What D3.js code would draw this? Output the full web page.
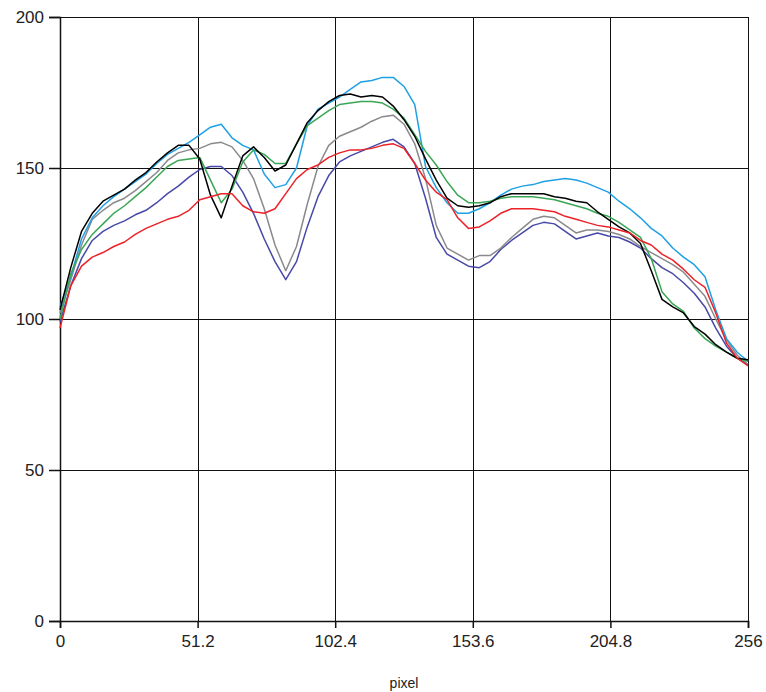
<!DOCTYPE html>
<html><head><meta charset="utf-8">
<script src="https://cdn.jsdelivr.net/npm/d3@7"></script>
<style>
body{margin:0;background:#fff;}
text{font-family:"Liberation Sans",Arial,sans-serif;}
</style></head>
<body><svg id="c" width="766" height="692"></svg>
<script>
const xStep = 4;
const xTicks = [0, 51.2, 102.4, 153.6, 204.8, 256];
const yTicks = [0, 50, 100, 150, 200];
const xLabel = "pixel";

const black = [103,117,129,135,139,141,143,146,148.5,152,155,157.5,157.5,153,141,133.5,144,154,157,153.5,149,151,158,165,169,172,174,174.5,173.5,174,173.5,170.5,166,160.5,153,146,140,137.5,137,137.5,138.5,140.5,141.5,141.5,141.5,141.5,140.5,140,139,138.5,135.5,133,130.5,128.5,125,116,106.5,104,102,97.5,95,91.5,89,87,86.5];
const green = [100,115,123,128,131.5,135,137.5,140.5,143.5,147,150.5,152.5,153,153.5,146,138.5,143,152,156,154.5,151.5,151.5,158,164,166.5,169,171,171.5,172,172,171.5,169.5,166.5,161,155.5,151,145.5,141,138.5,138.5,139,140,140.5,140.5,140.5,140,139.5,138.5,137.5,136.5,135,134,132,129.5,127,120,109,105,102.5,97,93.5,91,89,87,86];
const blue = [104,114,126.5,133.5,137.5,140.5,143,145.5,148,151.5,154.5,156.5,158.5,161,163.5,164.5,160,157.5,156,148,143.5,144.5,150,164,169.5,171.5,173.5,176,178.5,179,180,180,177,171,150.5,143.5,138.5,135,135,136.5,138.5,141,143,144,144.5,145.5,146,146.5,146,145,143.5,142,139,136.5,133.5,130,127.5,123.5,120.5,118,114,103,93.5,89,86];
const gray = [102,113,124.5,133,136,138.5,140,142.5,145.5,148.5,152.5,155,156,156.5,158,158.5,157,152.5,146.5,136.5,124.5,116,124,138,150.5,157.5,160.5,162,163.5,165.5,167,167.5,164.5,158,146.5,131,123.5,121.5,119.5,121,121,123.5,127,130,133,134,133.5,131,128.5,129.5,129.5,129,128,126.5,124,122,120,118,115.5,111.5,107.5,100,93,88,85];
const navy = [99,111,120,126,129,131,132.5,134.5,136,138.5,141.5,144,147,149.5,150.5,150.5,147.5,142,135,126.5,119,113,119,130.5,140.5,147.5,152,154,155.5,157,158.5,159.5,157,151.5,140,127,121.5,119.5,117.5,117,119,123,126,128.5,131,132,131.5,129,126.5,127.5,128.5,127.5,127,125.5,123.5,120,117,115,112,108.5,104,97,91,87,85];
const red = [97,111,117.5,120.5,122,124,125.5,128,130,131.5,133,134,136,139.5,140.5,141.5,141.5,137.5,135.5,135,136.5,141.5,146.5,149.5,151,153.5,155,156,156,156.5,157.5,158,156.5,151.5,146,142,139.5,133.5,130,130.5,132.5,135,136.5,136.5,136.5,136,135.5,134,133,132,131,130.5,129.5,128.5,126,124.5,121.5,119.5,116.5,113,110.5,102,92,87,84.5];

const seriesList = [
  {name:"navy", values:navy, color:"#4848a8"},
  {name:"gray", values:gray, color:"#8a8a8e"},
  {name:"blue", values:blue, color:"#1fa0e4"},
  {name:"green", values:green, color:"#3aa655"},
  {name:"black", values:black, color:"#000000"},
  {name:"red", values:red, color:"#ec2228"}
];

const svg = d3.select("#c");
const m = {left:60, top:17, right:18, bottom:71};
const W = 766 - m.left - m.right, H = 692 - m.top - m.bottom;
const x = d3.scaleLinear().domain([0,256]).range([0,W]);
const y = d3.scaleLinear().domain([0,200]).range([H,0]);
const g = svg.append("g").attr("transform",`translate(${m.left},${m.top})`);

// grid
g.append("g").selectAll("line").data(xTicks).join("line")
  .attr("x1",d=>Math.round(x(d))+0.5).attr("x2",d=>Math.round(x(d))+0.5)
  .attr("y1",0).attr("y2",H).attr("stroke","#111").attr("stroke-width",1);
g.append("g").selectAll("line").data(yTicks).join("line")
  .attr("y1",d=>Math.round(y(d))+0.5).attr("y2",d=>Math.round(y(d))+0.5)
  .attr("x1",0).attr("x2",W).attr("stroke","#111").attr("stroke-width",1);

// axes
const xa = g.append("g").attr("transform",`translate(0,${H})`)
  .call(d3.axisBottom(x).tickValues(xTicks).tickFormat(d=>String(d)).tickSize(7).tickPadding(7));
const ya = g.append("g")
  .call(d3.axisLeft(y).tickValues(yTicks).tickFormat(d=>String(d)).tickSize(11).tickPadding(5));
[xa,ya].forEach(a=>{
  a.selectAll("path").attr("stroke","#111").attr("stroke-width",1.5);
  a.selectAll("line").attr("stroke","#111").attr("stroke-width",1.5);
  a.selectAll("text").attr("font-size",17).attr("fill","#222")
    .style("font-family","'Liberation Sans',Arial,sans-serif");
});

// lines
const line = d3.line().x((d,i)=>x(i*xStep)).y(d=>y(d));
seriesList.forEach(s=>{
  g.append("path").datum(s.values).attr("d",line)
    .attr("fill","none").attr("stroke",s.color).attr("stroke-width",1.5)
    .attr("stroke-linejoin","round");
});

svg.append("text").attr("x",m.left+W/2).attr("y",688).attr("text-anchor","middle")
  .attr("font-size",14).attr("fill","#222").text(xLabel);
</script></body></html>
